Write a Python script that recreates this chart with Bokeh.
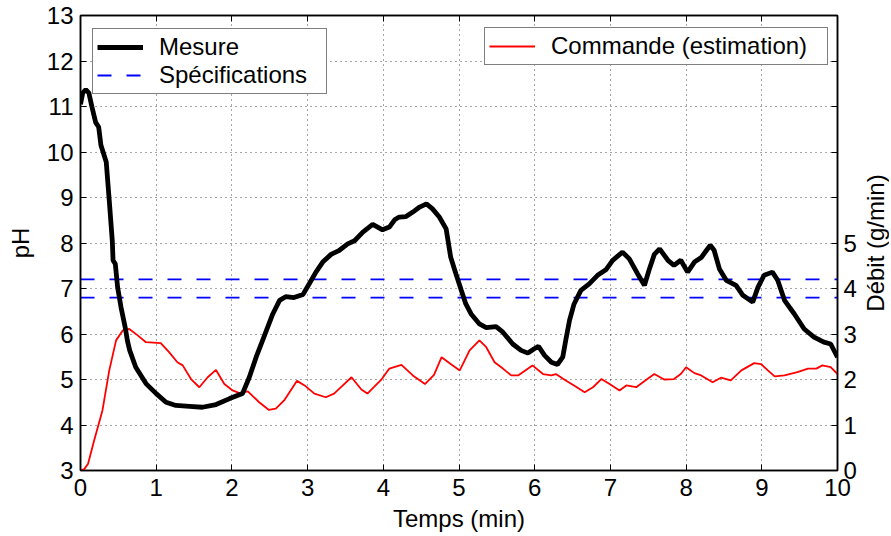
import math
from bokeh.plotting import figure
from bokeh.models import Range1d, LinearAxis, FixedTicker, Legend, LegendItem, Label
from bokeh.embed import file_html
from bokeh.resources import INLINE

# ---- data ----
t_mesure = [0.00, 0.03, 0.07, 0.11, 0.15, 0.20, 0.24, 0.27, 0.34, 0.38, 0.42, 0.43,
            0.46, 0.49, 0.535, 0.59, 0.62, 0.65, 0.73, 0.865, 1.00, 1.13, 1.26, 1.44,
            1.61, 1.79, 1.97, 2.14, 2.23, 2.32, 2.45, 2.54, 2.63, 2.71, 2.82, 2.94,
            3.02, 3.11, 3.20, 3.31, 3.42, 3.53, 3.62, 3.73, 3.86, 3.99, 4.08, 4.15,
            4.21, 4.30, 4.39, 4.48, 4.57, 4.65, 4.74, 4.83, 4.89, 4.96, 5.03, 5.09,
            5.16, 5.27, 5.36, 5.49, 5.58, 5.71, 5.82, 5.91, 5.99, 6.05, 6.13, 6.22,
            6.30, 6.37, 6.41, 6.46, 6.52, 6.61, 6.72, 6.83, 6.94, 7.03, 7.16, 7.25,
            7.36, 7.45, 7.51, 7.58, 7.65, 7.76, 7.84, 7.93, 8.02, 8.11, 8.20, 8.27,
            8.32, 8.37, 8.44, 8.53, 8.66, 8.75, 8.88, 8.95, 9.03, 9.14, 9.21, 9.30,
            9.43, 9.56, 9.69, 9.82, 9.91, 10.00]
ph_mesure = [11.05, 11.30, 11.37, 11.30, 11.00, 10.65, 10.55, 10.15, 9.78, 8.93, 8.05, 7.62,
             7.54, 7.03, 6.59, 6.15, 5.85, 5.64, 5.27, 4.91, 4.69, 4.50, 4.43, 4.41,
             4.39, 4.45, 4.58, 4.69, 5.05, 5.49, 6.05, 6.44, 6.74, 6.82, 6.80, 6.87,
             7.10, 7.36, 7.58, 7.75, 7.84, 7.98, 8.05, 8.24, 8.41, 8.29, 8.35, 8.51,
             8.57, 8.58, 8.68, 8.79, 8.86, 8.75, 8.57, 8.31, 7.69, 7.32, 6.96, 6.66,
             6.44, 6.22, 6.14, 6.16, 6.04, 5.78, 5.64, 5.58, 5.67, 5.73, 5.53, 5.38,
             5.33, 5.49, 5.86, 6.30, 6.66, 6.96, 7.10, 7.29, 7.41, 7.62, 7.80, 7.65,
             7.32, 7.07, 7.40, 7.75, 7.87, 7.62, 7.51, 7.62, 7.36, 7.58, 7.68, 7.84,
             7.95, 7.84, 7.43, 7.18, 7.07, 6.85, 6.70, 7.03, 7.29, 7.36, 7.18, 6.74,
             6.44, 6.11, 5.93, 5.82, 5.78, 5.49]

t_commande = [0.00, 0.05, 0.10, 0.18, 0.29, 0.38, 0.47, 0.56, 0.645, 0.755, 0.865, 1.06,
              1.17, 1.28, 1.35, 1.46, 1.57, 1.68, 1.79, 1.90, 2.01, 2.10, 2.21, 2.36,
              2.49, 2.58, 2.69, 2.86, 2.96, 3.09, 3.24, 3.35, 3.42, 3.58, 3.71, 3.79,
              3.98, 4.08, 4.24, 4.39, 4.55, 4.67, 4.77, 4.89, 5.01, 5.14, 5.27, 5.36,
              5.47, 5.58, 5.69, 5.78, 5.97, 6.11, 6.22, 6.28, 6.41, 6.52, 6.66, 6.77,
              6.88, 6.99, 7.12, 7.21, 7.34, 7.47, 7.58, 7.71, 7.84, 7.93, 8.00, 8.11,
              8.20, 8.35, 8.46, 8.59, 8.73, 8.90, 8.99, 9.08, 9.17, 9.30, 9.47, 9.61,
              9.72, 9.80, 9.91, 10.00]
debit_commande = [0.00, 0.03, 0.15, 0.66, 1.32, 2.20, 2.86, 3.08, 3.11, 2.97, 2.82, 2.80,
                  2.60, 2.38, 2.31, 2.01, 1.83, 2.05, 2.21, 1.90, 1.76, 1.70, 1.74, 1.50,
                  1.33, 1.36, 1.54, 1.97, 1.87, 1.69, 1.61, 1.69, 1.80, 2.05, 1.78, 1.69,
                  2.01, 2.24, 2.32, 2.09, 1.90, 2.10, 2.49, 2.34, 2.20, 2.64, 2.86, 2.71,
                  2.38, 2.24, 2.09, 2.09, 2.31, 2.12, 2.09, 2.12, 1.98, 1.87, 1.72, 1.83,
                  2.01, 1.90, 1.76, 1.87, 1.83, 1.99, 2.12, 2.00, 2.01, 2.12, 2.27, 2.14,
                  2.09, 1.94, 2.04, 1.98, 2.20, 2.36, 2.34, 2.20, 2.07, 2.09, 2.16, 2.24,
                  2.24, 2.31, 2.27, 2.12]

spec_high = 7.2
spec_low = 6.8
t_limits = [0, 10]
ph_limits = [3, 13]
debit_limits = [0, 10]
x_ticks = list(range(0, 11))
ph_ticks = list(range(3, 14))
debit_labelled = list(range(0, 6))
debit_unlabelled = list(range(6, 11))

FONT = "Liberation Sans"
FS = "24px"
FRAME_W, FRAME_H = 757, 455

p = figure(frame_width=FRAME_W, frame_height=FRAME_H,
           x_range=Range1d(*t_limits), y_range=Range1d(*ph_limits),
           output_backend="svg", toolbar_location=None,
           min_border_left=80, min_border_right=52, min_border_top=15, min_border_bottom=64,
           background_fill_color="white", border_fill_color="white")
p.extra_y_ranges = {"debit": Range1d(*debit_limits)}

p.outline_line_color = "black"
p.outline_line_width = 1.5

def style_axis(ax):
    ax.major_tick_in = 6
    ax.major_tick_out = 0
    ax.minor_tick_in = 6
    ax.minor_tick_out = 0
    ax.minor_tick_line_color = "black"
    ax.axis_line_color = "black"
    ax.axis_line_width = 1.5
    ax.major_tick_line_color = "black"
    ax.major_tick_line_width = 1
    ax.major_label_text_font = FONT
    ax.major_label_text_font_size = FS
    ax.major_label_text_color = "black"
    ax.axis_label_text_font = FONT
    ax.axis_label_text_font_size = FS
    ax.axis_label_text_font_style = "normal"
    ax.axis_label_text_color = "black"

xa = p.xaxis[0]
xa.ticker = FixedTicker(ticks=x_ticks, minor_ticks=[])
xa.axis_label = "Temps (min)"
style_axis(xa)
xa.major_label_standoff = 8
xa.axis_label_standoff = 6

ya = p.yaxis[0]
ya.ticker = FixedTicker(ticks=ph_ticks, minor_ticks=[])
ya.axis_label = "pH"
style_axis(ya)
ya.major_label_standoff = 7
ya.axis_label_standoff = 10

ra = LinearAxis(y_range_name="debit",
                ticker=FixedTicker(ticks=debit_labelled, minor_ticks=debit_unlabelled))
style_axis(ra)
ra.major_label_standoff = 6
p.add_layout(ra, "right")

# right-axis title, reading bottom-to-top as in the reference (side panel, not clipped)
debit_title = Label(x=2, y=FRAME_H / 2, x_units="screen", y_units="screen",
                    text="Débit (g/min)", angle=math.pi / 2, angle_units="rad",
                    text_align="center", text_baseline="top",
                    text_font=FONT, text_font_size=FS, text_color="black")
p.add_layout(debit_title, "right")

ta = LinearAxis(ticker=FixedTicker(ticks=[], minor_ticks=x_ticks))
style_axis(ta)
ta.major_label_standoff = 0
p.add_layout(ta, "above")

for g in (p.xgrid[0], p.ygrid[0]):
    g.grid_line_color = "black"
    g.grid_line_dash = "1 4"
    g.grid_line_alpha = 0.7
    g.grid_line_width = 1
p.xgrid[0].ticker = FixedTicker(ticks=x_ticks)
p.ygrid[0].ticker = FixedTicker(ticks=ph_ticks)

r_spec1 = p.line(t_limits, [spec_high, spec_high], line_color="#0000ff", line_width=1.8,
                 line_dash="14 15")
r_spec2 = p.line(t_limits, [spec_low, spec_low], line_color="#0000ff", line_width=1.8,
                 line_dash="14 15")
r_cmd = p.line(t_commande, debit_commande, y_range_name="debit", line_color="#ff0000",
               line_width=1.8)
r_mes = p.line(t_mesure, ph_mesure, line_color="black", line_width=4.8)

def style_legend(lg, label_width):
    lg.border_line_color = "black"
    lg.border_line_width = 1.2
    lg.background_fill_color = "white"
    lg.background_fill_alpha = 1
    lg.label_text_font = FONT
    lg.label_text_font_size = FS
    lg.label_text_color = "black"
    lg.glyph_width = 46
    lg.glyph_height = 26
    lg.label_height = 26
    lg.label_width = label_width
    lg.label_standoff = 16
    lg.padding = 4
    lg.spacing = 0
    lg.margin = 0

leg1 = Legend(items=[LegendItem(label="Mesure", renderers=[r_mes]),
                     LegendItem(label="Spécifications", renderers=[r_spec1])],
              location=(12, 376))
style_legend(leg1, 163)
leg2 = Legend(items=[LegendItem(label="Commande (estimation)", renderers=[r_cmd])],
              location=(404, 405))
style_legend(leg2, 272)
p.add_layout(leg1, "center")
p.add_layout(leg2, "center")

open("out.html", "w").write(file_html(p, INLINE))
